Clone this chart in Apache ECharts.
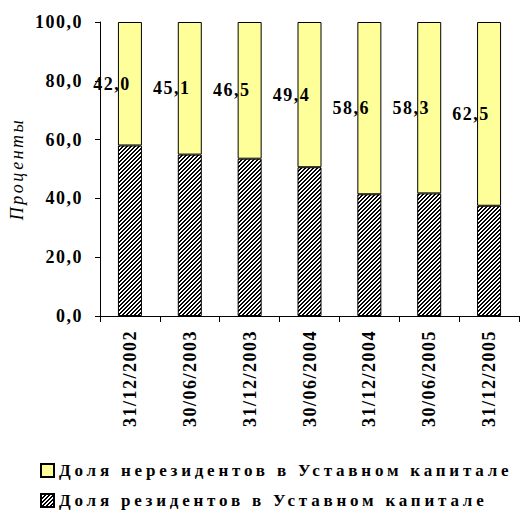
<!DOCTYPE html>
<html><head><meta charset="utf-8">
<script src="https://cdn.jsdelivr.net/npm/echarts@6/dist/echarts.min.js"></script>
<style>html,body{margin:0;padding:0;background:#fff}#c{width:520px;height:520px}</style>
</head><body><div id="c"></div>
<script>
const categories = ['31/12/2002','30/06/2003','31/12/2003','30/06/2004','31/12/2004','30/06/2005','31/12/2005'];
const nonResidents = [42.0, 45.1, 46.5, 49.4, 58.6, 58.3, 62.5];
const residents = [58.0, 54.9, 53.5, 50.6, 41.4, 41.7, 37.5];
const yTicks = [0, 20, 40, 60, 80, 100];
const nameNon = 'Доля нерезидентов в Уставном капитале';
const nameRes = 'Доля резидентов в Уставном капитале';

function hatch() {
  const c = document.createElement('canvas');
  c.width = 4; c.height = 4;
  const g = c.getContext('2d');
  const img = g.createImageData(4, 4);
  for (let y = 0; y < 4; y++) for (let x = 0; x < 4; x++) {
    const i = (y * 4 + x) * 4;
    const v = ((x + y) % 4 < 2) ? 0 : 255;
    img.data[i] = v; img.data[i+1] = v; img.data[i+2] = v; img.data[i+3] = 255;
  }
  g.putImageData(img, 0, 0);
  return c.toDataURL();
}
const fmt = v => Number(v).toFixed(1).replace('.', ',');
const font = "'Liberation Serif', 'Times New Roman', serif";
const chart = echarts.init(document.getElementById('c'), null, { renderer: 'svg' });
chart.setOption({
  animation: false,
  grid: { left: 100, right: 1, top: 22, bottom: 204 },
  legend: {
    data: [nameNon, { name: nameRes, icon: 'rect' }], icon: 'rect', orient: 'vertical', left: 35, top: 457,
    itemWidth: 13, itemHeight: 13, itemGap: 13,
    textStyle: { fontFamily: font, fontWeight: 'bold', fontSize: 17, color: '#000' }
  },
  xAxis: {
    type: 'category', data: categories, boundaryGap: true,
    axisLine: { lineStyle: { color: '#000' } },
    axisTick: { show: true, length: 6, inside: false, lineStyle: { color: '#000' } },
    axisLabel: { rotate: 90, margin: 14, fontFamily: font, fontWeight: 'bold', fontSize: 18, color: '#000' }
  },
  yAxis: {
    type: 'value', min: 0, max: 100, interval: 20,
    name: 'Проценты', nameLocation: 'middle', nameGap: 74, nameRotate: 90,
    nameTextStyle: { fontFamily: font, fontStyle: 'italic', fontSize: 18, color: '#000' },
    axisLine: { show: true, lineStyle: { color: '#000' } },
    axisTick: { show: true, length: 5, lineStyle: { color: '#000' } },
    splitLine: { show: false },
    axisLabel: { formatter: v => yTicks.includes(v) ? fmt(v) : '', margin: 17, fontFamily: font, fontWeight: 'bold', fontSize: 18, color: '#000' }
  },
  series: [
    { name: nameRes, type: 'bar', stack: 's', data: residents, barWidth: 24,
      itemStyle: { color: { image: hatch(), repeat: 'repeat' }, borderColor: '#000', borderWidth: 1 } },
    { name: nameNon, type: 'bar', stack: 's', data: nonResidents, barWidth: 24,
      itemStyle: { color: '#FFFF99', borderColor: '#000', borderWidth: 1 },
      label: { show: true, position: 'inside', offset: [-18, 0], formatter: p => fmt(p.value),
        fontFamily: font, fontWeight: 'bold', fontSize: 18, color: '#000' } }
  ]
});
function spacing() {
  document.querySelectorAll('#c svg text').forEach(t => {
    const s = t.textContent || '';
    if (s.indexOf('Доля') === 0) t.style.letterSpacing = '3.8px';
    else if (s === 'Проценты') t.style.letterSpacing = '2.5px';
    else t.style.letterSpacing = '1.5px';
  });
}
chart.on('finished', spacing);
spacing();
setTimeout(spacing, 50);
setTimeout(spacing, 300);
</script></body></html>
